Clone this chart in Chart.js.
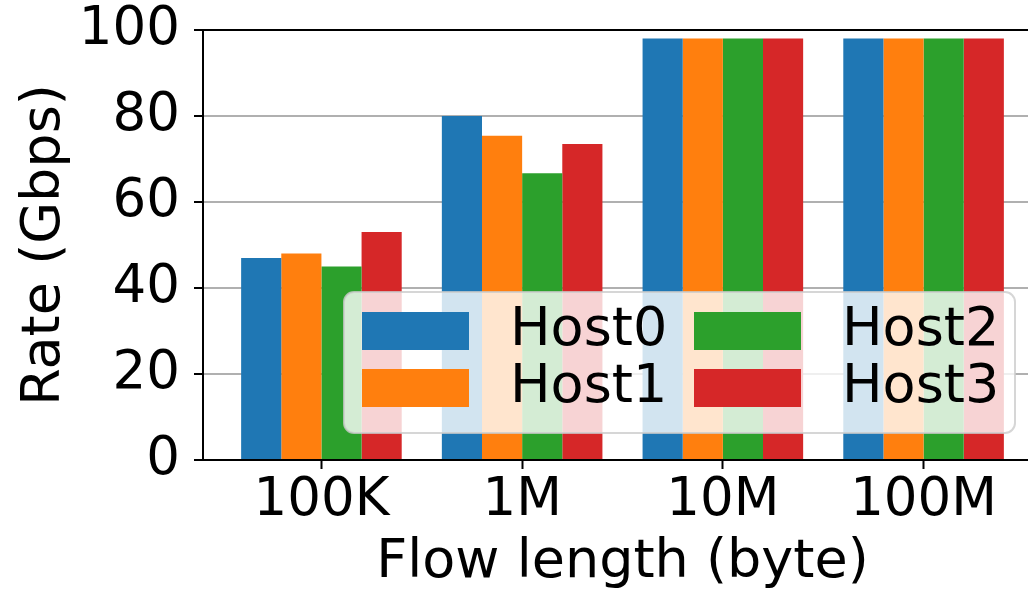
<!DOCTYPE html>
<html>
<head>
<meta charset="utf-8">
<script src="https://cdn.jsdelivr.net/npm/chart.js@4.4.0/dist/chart.umd.min.js"></script>
<style>
html, body { margin: 0; padding: 0; overflow: hidden; background: #fff; }
canvas { display: block; }
</style>
</head>
<body>
<canvas id="rateChart" width="1042" height="591"></canvas>
<script>
// data
const flowLengths = ['100K', '1M', '10M', '100M'];
const hostNames = ['Host0', 'Host1', 'Host2', 'Host3'];
const host0Rate = [47, 80, 98, 98];
const host1Rate = [48, 75.4, 98, 98];
const host2Rate = [45, 66.7, 98, 98];
const host3Rate = [53, 73.5, 98, 98];
const yTicks = [0, 20, 40, 60, 80, 100];

const hostRates = [host0Rate, host1Rate, host2Rate, host3Rate];
const hostColors = ['#1f77b4', '#ff7f0e', '#2ca02c', '#d62728'];
const family = '"DejaVu Sans", sans-serif';

// top spine like matplotlib
const frame = {
    id: 'frame',
    afterDraw(chart){
        const {ctx, chartArea} = chart;
        ctx.save();
        ctx.strokeStyle = '#000';
        ctx.lineWidth = 2;
        ctx.beginPath();
        ctx.moveTo(chartArea.left - 1, chartArea.top);
        ctx.lineTo(chartArea.right, chartArea.top);
        ctx.lineTo(chartArea.right, chartArea.bottom);
        ctx.stroke();
        ctx.restore();
    }
};

// two column legend in the lower right corner, semi transparent box
const boxLegend = {
    id: 'boxLegend',
    afterDraw(chart){
        const {ctx, chartArea} = chart;
        const w = 671, h = 141;
        const right = chartArea.right - 27, bottom = chartArea.bottom - 27;
        const left = right - w, top = bottom - h;
        ctx.save();
        ctx.globalAlpha = 0.8;
        ctx.beginPath();
        ctx.roundRect(left, top, w, h, 10);
        ctx.fillStyle = '#fff';
        ctx.fill();
        ctx.strokeStyle = '#cccccc';
        ctx.lineWidth = 2;
        ctx.stroke();
        ctx.globalAlpha = 1;
        ctx.font = '54px ' + family;
        ctx.textBaseline = 'middle';
        ctx.textAlign = 'left';
        chart.data.datasets.forEach((ds, i) => {
            const col = Math.floor(i / 2), row = i % 2;
            const x = left + 18 + col * 332;
            const cy = top + 39 + row * 57;
            ctx.fillStyle = ds.backgroundColor;
            ctx.fillRect(x, cy - 19, 107, 38);
            ctx.fillStyle = '#000';
            ctx.fillText(ds.label, x + 148, cy);
        });
        ctx.restore();
    }
};

const tickFont = {family: family, size: 53, lineHeight: 1};
const titleFont = {family: family, size: 54, lineHeight: 1};

new Chart(document.getElementById('rateChart'), {
    type: 'bar',
    data: {
        datasets: hostNames.map((name, k) => ({
            label: name,
            data: hostRates[k].map((v, i) => ({x: i, y: v})),
            backgroundColor: hostColors[k],
            borderWidth: 0,
            categoryPercentage: 0.8,
            barPercentage: 1.0
        }))
    },
    options: {
        responsive: false,
        animation: false,
        layout: {padding: {top: 30, right: 0, bottom: 0, left: 0}},
        plugins: {legend: {display: false}, tooltip: {enabled: false}},
        scales: {
            x: {
                type: 'linear',
                min: -0.59,
                max: 3.59,
                offset: false,
                z: 1,
                afterBuildTicks: s => { s.ticks = flowLengths.map((_, i) => ({value: i})); },
                afterFit: s => { s.height = 131; },
                ticks: {
                    callback: v => flowLengths[v],
                    font: tickFont,
                    color: '#000',
                    padding: 6,
                    autoSkip: false,
                    maxRotation: 0
                },
                grid: {
                    offset: false,
                    drawOnChartArea: false,
                    drawTicks: true,
                    tickLength: 9,
                    tickColor: '#000',
                    tickWidth: 2
                },
                border: {color: '#000', width: 2},
                title: {
                    display: true,
                    text: 'Flow length (byte)',
                    font: titleFont,
                    color: '#000',
                    padding: {top: 0, bottom: 1}
                }
            },
            y: {
                min: 0,
                max: 100,
                afterBuildTicks: s => { s.ticks = yTicks.map(v => ({value: v})); },
                afterFit: s => { s.width = 203; s.paddingTop = 0; s.paddingBottom = 0; },
                ticks: {
                    font: tickFont,
                    color: '#000',
                    padding: 14
                },
                grid: {
                    color: c => (c.tick && (c.tick.value === 0 || c.tick.value === 100)) ? 'rgba(0,0,0,0)' : '#b0b0b0',
                    lineWidth: 2,
                    tickLength: 9,
                    tickColor: '#000',
                    tickWidth: 2
                },
                border: {color: '#000', width: 2},
                title: {
                    display: true,
                    text: 'Rate (Gbps)',
                    font: titleFont,
                    color: '#000',
                    padding: {top: 18, bottom: 0}
                }
            }
        }
    },
    plugins: [frame, boxLegend]
});
</script>
</body>
</html>
